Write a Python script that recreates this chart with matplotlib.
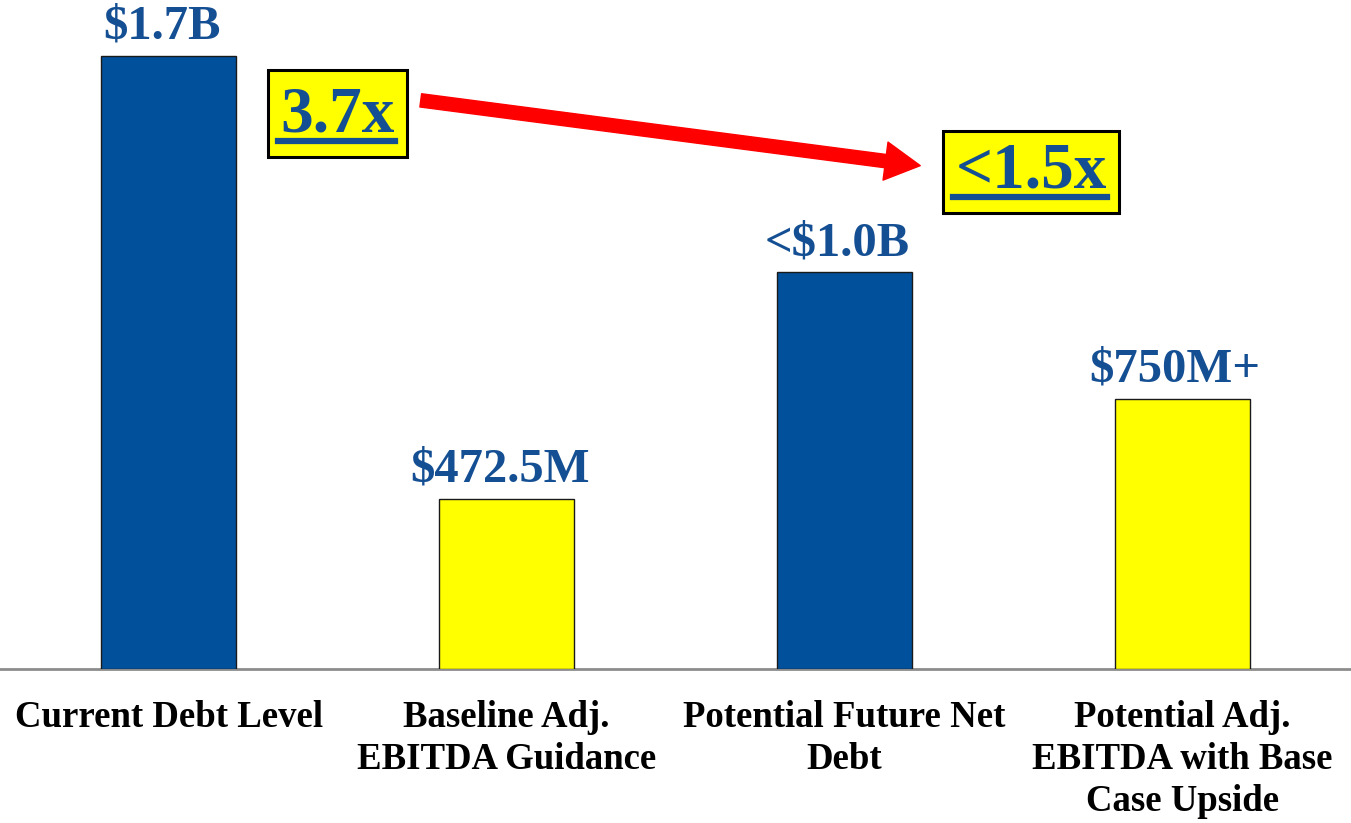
import matplotlib
matplotlib.use("Agg")
import matplotlib.pyplot as plt
from matplotlib.patches import Rectangle, FancyArrowPatch
from matplotlib.lines import Line2D

# ---- data ----
categories = ["Current Debt Level", "Baseline Adj.\nEBITDA Guidance",
              "Potential Future Net\nDebt", "Potential Adj.\nEBITDA with Base\nCase Upside"]
values = [1700, 472.5, 1100, 750]          # $M (visual bar heights)
value_labels = ["$1.7B", "$472.5M", "<$1.0B", "$750M+"]
bar_colors = ["#00509B", "#FFFF00", "#00509B", "#FFFF00"]
multiples = ["3.7x", "<1.5x"]

W, H = 1351, 823
fig = plt.figure(figsize=(W / 100, H / 100), dpi=100)
ax = fig.add_axes([0, (H - 669) / H, 1, 669 / H])

FONT = "Liberation Serif"
TXT_BLUE = "#154F93"

x = range(len(categories))
ax.bar(x, values, width=0.4, color=bar_colors, edgecolor="#1a1a1a", linewidth=1.0, zorder=3)
ax.set_xlim(-0.5, 3.5)
ax.set_ylim(0, 1855)

for xi, v, lab in zip(x, values, value_labels):
    ax.annotate(lab, (xi, v), xytext=(-5, 5), textcoords="offset points",
                ha="center", va="bottom", fontsize=35, fontweight="bold",
                family=FONT, color=TXT_BLUE, annotation_clip=False)

ax.set_xticks(list(x))
ax.set_xticklabels(categories, fontsize=26.5, fontweight="bold", family=FONT,
                   linespacing=1.27, color="black")
ax.tick_params(axis="x", length=0, pad=22)
ax.set_yticks([])
for s in ["top", "left", "right"]:
    ax.spines[s].set_visible(False)
ax.spines["bottom"].set_color("#8c8c8c")
ax.spines["bottom"].set_linewidth(2)

# ---- multiple boxes (figure pixel helpers) ----
def fx(px):
    return px / W

def fy(py):
    return 1 - py / H

boxes = [(268, 70, 407, 157), (943, 131, 1119, 213)]
for (x0, y0, x1, y1), txt in zip(boxes, multiples):
    fig.patches.append(Rectangle((fx(x0), fy(y1)), fx(x1) - fx(x0), fy(y0) - fy(y1),
                                 transform=fig.transFigure, facecolor="#FFFF00",
                                 edgecolor="black", linewidth=2.2, zorder=5))
    cx = (x0 + x1) / 2
    fig.text(fx(cx), fy(y1 - 25), txt, ha="center", va="baseline", fontsize=47,
             fontweight="bold", family=FONT, color=TXT_BLUE, zorder=6)
    fig.lines.append(Line2D([fx(x0 + 10), fx(x1 - 12)], [fy(y1 - 16), fy(y1 - 16)],
                            transform=fig.transFigure, color=TXT_BLUE, linewidth=4.5,
                            zorder=6))

arrow = FancyArrowPatch((fx(418), fy(100)), (fx(923), fy(166)),
                        transform=fig.transFigure,
                        arrowstyle="simple,head_length=2.1,head_width=2.3,tail_width=0.8",
                        mutation_scale=12, color="#FF0000", zorder=6)
fig.patches.append(arrow)

fig.savefig("out.png", dpi=100)
